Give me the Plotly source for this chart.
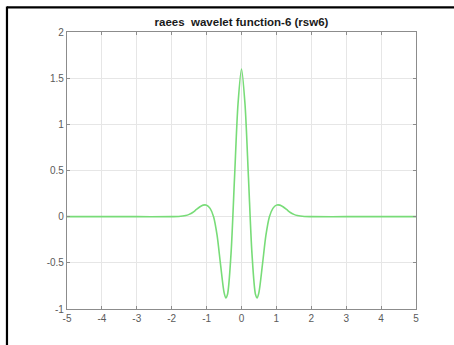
import plotly.graph_objects as go

# Curve samples
x_vals = [-5, -3, -2, -1.8, -1.6, -1.5, -1.4, -1.3, -1.2, -1.1, -1.0, -0.9, -0.8, -0.7,
          -0.6, -0.5, -0.45, -0.4, -0.3, -0.2, -0.1, 0,
          0.1, 0.2, 0.3, 0.4, 0.45, 0.5, 0.6, 0.7, 0.8, 0.9, 1.0, 1.1, 1.2, 1.3, 1.4,
          1.5, 1.6, 1.8, 2, 3, 5]
y_vals = [0, 0, 0.0, 0.002, 0.012, 0.025, 0.045, 0.075, 0.105, 0.125, 0.125, 0.09, 0.0, -0.2,
          -0.52, -0.82, -0.88, -0.84, -0.40, 0.42, 1.22, 1.6,
          1.22, 0.42, -0.40, -0.84, -0.88, -0.82, -0.52, -0.2, 0.0, 0.09, 0.125, 0.125, 0.105,
          0.075, 0.045, 0.025, 0.012, 0.002, 0.0, 0, 0]

x_ticks = [-5, -4, -3, -2, -1, 0, 1, 2, 3, 4, 5]
x_ticklabels = ["-5", "-4", "-3", "-2", "-1", "0", "1", "2", "3", "4", "5"]
y_ticks = [-1, -0.5, 0, 0.5, 1, 1.5, 2]
y_ticklabels = ["-1", "-0.5", "0", "0.5", "1", "1.5", "2"]

title_text = "raees\u00a0\u00a0wavelet function-6 (rsw6)"

fig = go.Figure()
fig.add_trace(go.Scatter(
    x=x_vals, y=y_vals, mode="lines",
    line=dict(color="rgb(120,220,120)", width=1.6, shape="spline", smoothing=0.8),
    hoverinfo="skip", showlegend=False,
))

axis_common = dict(
    showgrid=True, gridcolor="#e6e6e6", gridwidth=1,
    showline=True, linecolor="#8c8c8c", linewidth=1.2, mirror="ticks",
    ticks="inside", ticklen=3, tickcolor="#8c8c8c", tickwidth=1,
    zeroline=False,
    tickfont=dict(family="Liberation Sans, Arial, sans-serif", size=10, color="#5a5a5a"),
)

fig.update_layout(
    width=454, height=345,
    margin=dict(l=67, r=38, t=32, b=36),
    paper_bgcolor="white", plot_bgcolor="white",
    title=dict(text="<b>" + title_text + "</b>", x=0.5, xref="paper", xanchor="center",
               y=0.935, yref="container", yanchor="middle",
               font=dict(family="Liberation Sans, Arial, sans-serif", size=11.5, color="#1a1a1a")),
    xaxis=dict(range=[-5, 5], tickvals=x_ticks, ticktext=x_ticklabels, **axis_common),
    yaxis=dict(range=[-1, 2], tickvals=y_ticks, ticktext=y_ticklabels, **axis_common),
    shapes=[
        dict(type="line", xref="paper", yref="paper", x0=-0.172, x1=1.11, y0=1.089, y1=1.089,
             line=dict(color="black", width=2.2)),
        dict(type="line", xref="paper", yref="paper", x0=-0.172, x1=-0.172, y0=1.092, y1=-0.14,
             line=dict(color="black", width=2.2)),
    ],
)

fig.write_html("out.html")
